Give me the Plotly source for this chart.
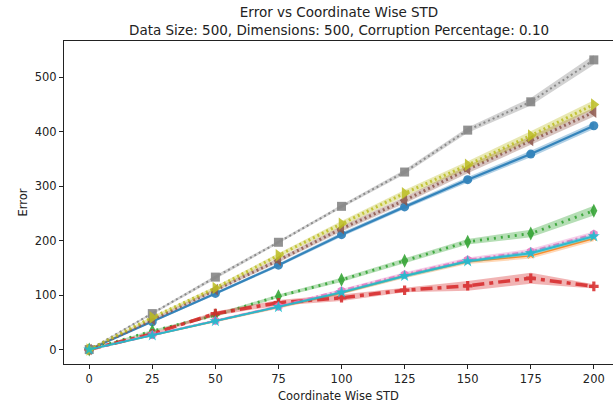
import plotly.graph_objects as go

# Coordinate-wise standard deviation of the noise
std_values = [0, 25, 50, 75, 100, 125, 150, 175, 200]

# Mean error per estimator
err_blue = [0, 51, 103, 155, 211, 262, 312, 359, 411]
err_orange = [0, 26, 52, 78, 104, 135, 161, 172, 204]
err_green = [0, 34, 63, 98, 128, 163, 198, 213, 255]
err_red = [0, 29, 66, 86, 95, 109, 117, 131, 116]
err_brown = [0, 55, 110, 164, 222, 274, 331, 384, 436]
err_pink = [0, 27, 53, 79, 108, 138, 165, 180, 212]
err_gray = [0, 66, 133, 197, 263, 326, 403, 455, 532]
err_olive = [0, 59, 113, 173, 231, 287, 339, 393, 450]
err_cyan = [0, 26, 52, 78, 105, 135, 162, 177, 208]

# Spread (half-width of the shaded band) per estimator
spread_blue = [1, 2, 3, 3, 4, 4, 5, 6, 6]
spread_orange = [1, 2, 2, 3, 3, 4, 4, 5, 5]
spread_green = [1, 2, 3, 3, 4, 5, 5, 7, 9]
spread_red = [1, 2, 4, 5, 6, 4, 9, 10, 4]
spread_brown = [1, 2, 3, 4, 5, 6, 7, 8, 8]
spread_pink = [1, 2, 2, 3, 3, 4, 4, 5, 5]
spread_gray = [1, 2, 3, 3, 3, 4, 5, 7, 9]
spread_olive = [1, 2, 3, 4, 5, 6, 7, 8, 8]
spread_cyan = [1, 1, 2, 2, 3, 3, 3, 4, 4]

title_text = ("Error vs Coordinate Wise STD<br>"
              "Data Size: 500, Dimensions: 500, Corruption Percentage: 0.10")

series = [
    # values, spread, color, band rgba, symbol, size, dash, width
    (err_blue, spread_blue, "#1f77b4", "rgba(31,119,180,0.35)", "circle", 9, "solid", 2.2),
    (err_orange, spread_orange, "#ff7f0e", "rgba(255,127,14,0.3)", "x-thin-open", 5, "solid", 1.5),
    (err_green, spread_green, "#2ca02c", "rgba(44,160,44,0.35)", "diamond-tall", 10, "2px,5px", 2.8),
    (err_red, spread_red, "#d62728", "rgba(214,39,40,0.35)", "cross", 8, "12px,5px,4px,5px", 3.5),
    (err_brown, spread_brown, "#8c564b", "rgba(140,86,75,0.35)", "triangle-left", 10, "2px,3px", 3),
    (err_pink, spread_pink, "#e377c2", "rgba(227,119,194,0.35)", "hexagon", 9, "6px,3px,2px,3px", 2.2),
    (err_gray, spread_gray, "#7f7f7f", "rgba(127,127,127,0.35)", "square", 9, "2px,3px", 2),
    (err_olive, spread_olive, "#bcbd22", "rgba(188,189,34,0.35)", "triangle-right", 11, "2px,3px", 3),
    (err_cyan, spread_cyan, "#17becf", "rgba(23,190,207,0.35)", "star", 9, "solid", 2),
]

fig = go.Figure()
for vals, spread, color, band, symbol, size, dash, width in series:
    lower = [v - s for v, s in zip(vals, spread)]
    upper = [v + s for v, s in zip(vals, spread)]
    fig.add_trace(go.Scatter(x=std_values, y=lower, mode="lines",
                             line=dict(width=0), hoverinfo="skip", showlegend=False))
    fig.add_trace(go.Scatter(x=std_values, y=upper, mode="lines", fill="tonexty",
                             fillcolor=band, line=dict(width=0), hoverinfo="skip",
                             showlegend=False))
    fig.add_trace(go.Scatter(x=std_values, y=vals, mode="lines+markers",
                             line=dict(color=color, width=width, dash=dash),
                             marker=dict(symbol=symbol, size=size, color=color,
                                         line=dict(width=1 if "open" in symbol else 0, color=color)),
                             opacity=0.85, showlegend=False))

axis_font = dict(family="DejaVu Sans", size=11.5, color="#222222")
title_font = dict(family="DejaVu Sans", size=13.5, color="#222222")

# two-line title centred above the axes box
fig.add_annotation(text=title_text, xref="paper", yref="paper", x=0.5, y=1.063,
                   xanchor="center", yanchor="middle", align="center", showarrow=False,
                   borderpad=0, font=title_font)

fig.update_layout(
    width=613, height=405,
    margin=dict(l=64, r=0, t=41, b=41),
    paper_bgcolor="white", plot_bgcolor="white",
    font=dict(family="DejaVu Sans", color="#222222"),
    xaxis=dict(range=[-10, 207.6], tickvals=std_values, ticks="outside", ticklen=4,
               tickcolor="#222222", showline=True, linecolor="#222222", linewidth=1,
               mirror=True, showgrid=False, zeroline=False, tickfont=axis_font,
               title=dict(text="Coordinate Wise STD", font=axis_font, standoff=7)),
    yaxis=dict(range=[-26.6, 566.7], tickvals=[0, 100, 200, 300, 400, 500], ticks="outside",
               ticklen=4, tickcolor="#222222", showline=True, linecolor="#222222",
               linewidth=1, mirror=False, showgrid=False, zeroline=False, tickfont=axis_font,
               title=dict(text="Error", font=axis_font, standoff=4)),
)

fig.write_html("out.html")
